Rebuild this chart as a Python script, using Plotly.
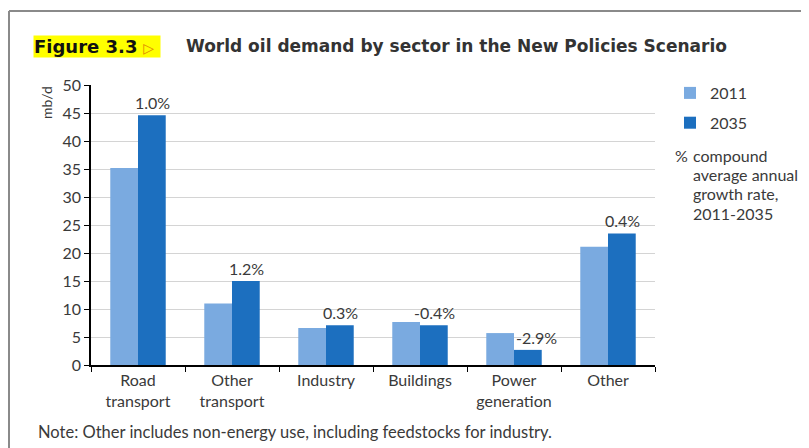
import plotly.graph_objects as go

categories = ["Road<br>transport", "Other<br>transport", "Industry", "Buildings", "Power<br>generation", "Other"]
values_2011 = [35.2, 11.0, 6.6, 7.7, 5.7, 21.1]
values_2035 = [44.6, 15.0, 7.1, 7.1, 2.7, 23.5]
growth_labels = ["1.0%", "1.2%", "0.3%", "-0.4%", "-2.9%", "0.4%"]
legend_note = ["compound", "average annual", "growth rate,", "2011-2035"]

FONT = "Lato"
TXT = "#3a3a3a"
FS = 16

# The page body adds an 8px margin; positions below are given in page pixels and shifted.
OFF = 8
W, H = 809 - OFF, 448 - OFF
L = 91 - OFF
T = 85 - OFF
R = W - (655 - OFF)
B = H - (365 - OFF)

def px_x(x):
    return (x - OFF - L) / (W - L - R)

def px_y(y):
    return 1 - (y - OFF - T) / (H - T - B)

fig = go.Figure()
fig.add_trace(go.Bar(name="2011", x=categories, y=values_2011, marker_color="#7AAAE0",
                     marker_line_width=0, legendgroup="a"))
fig.add_trace(go.Bar(name="2035", x=categories, y=values_2035, marker_color="#1C6FBF",
                     marker_line_width=0, legendgroup="b"))

annotations = []
for i, (c, v, t) in enumerate(zip(categories, values_2035, growth_labels)):
    xs = 14 if i != 4 else 22
    annotations.append(dict(x=c, y=v, text=t, xref="x", yref="y", showarrow=False,
                            yanchor="bottom", xshift=xs, yshift=1,
                            font=dict(family=FONT, size=FS, color=TXT)))

def pa(x, y, **kw):
    d = dict(x=px_x(x), y=px_y(y), xref="paper", yref="paper", showarrow=False)
    d.update(kw)
    return d

annotations += [
    pa(33, 46, text="<b>Figure 3.3</b> <span style='color:#e08a00;font-size:14px'>▷</span> ",
       bgcolor="#ffff00", font=dict(family="DejaVu Sans", size=18, color="#111"),
       xanchor="left", yanchor="middle", borderpad=0),
    pa(184, 46, text="<b>World oil demand by sector in the New Policies Scenario</b>",
       font=dict(family="DejaVu Sans", size=17, color="#333"), xanchor="left", yanchor="middle"),
    pa(46, 103, text="mb/d", textangle=-90, font=dict(family=FONT, size=14, color=TXT),
       xanchor="center", yanchor="middle"),
    pa(673, 155, text="%", font=dict(family=FONT, size=FS, color=TXT), xanchor="left", yanchor="middle"),
    pa(36, 432, text="Note: Other includes non-energy use, including feedstocks for industry.",
       font=dict(family=FONT, size=16.5, color=TXT), xanchor="left", yanchor="middle"),
]
for k, line in enumerate(legend_note):
    annotations.append(pa(691, 155 + 19.4 * k, text=line, font=dict(family=FONT, size=FS, color=TXT),
                          xanchor="left", yanchor="middle"))

shapes = [
    dict(type="line", xref="paper", yref="paper", x0=px_x(9), x1=px_x(9), y0=px_y(11), y1=px_y(460),
         line=dict(color="#8a8a8a", width=2)),
    dict(type="line", xref="paper", yref="paper", x0=px_x(9), x1=px_x(820), y0=px_y(11), y1=px_y(11),
         line=dict(color="#8a8a8a", width=2)),
]

fig.update_layout(
    width=W, height=H,
    margin=dict(l=L, r=R, t=T, b=B),
    paper_bgcolor="white", plot_bgcolor="white",
    barmode="group", bargap=0.41, bargroupgap=0,
    font=dict(family=FONT, size=FS, color=TXT),
    annotations=annotations, shapes=shapes,
    legend=dict(x=px_x(670), y=px_y(76), xanchor="left", yanchor="top",
                font=dict(family=FONT, size=FS, color=TXT), tracegroupgap=6,
                bgcolor="rgba(0,0,0,0)", itemwidth=30),
    xaxis=dict(showline=True, linecolor="black", linewidth=1.5, ticks="outside", ticklen=5,
               tickcolor="black", tickson="boundaries", tickfont=dict(size=FS, color=TXT),
               showgrid=False),
    yaxis=dict(range=[0, 50], dtick=5, showline=True, linecolor="black", linewidth=1.5,
               ticks="outside", ticklen=5, tickcolor="black", gridcolor="#d4d4d4",
               tickfont=dict(size=FS, color=TXT), zeroline=False),
)

fig.write_html("out.html")
